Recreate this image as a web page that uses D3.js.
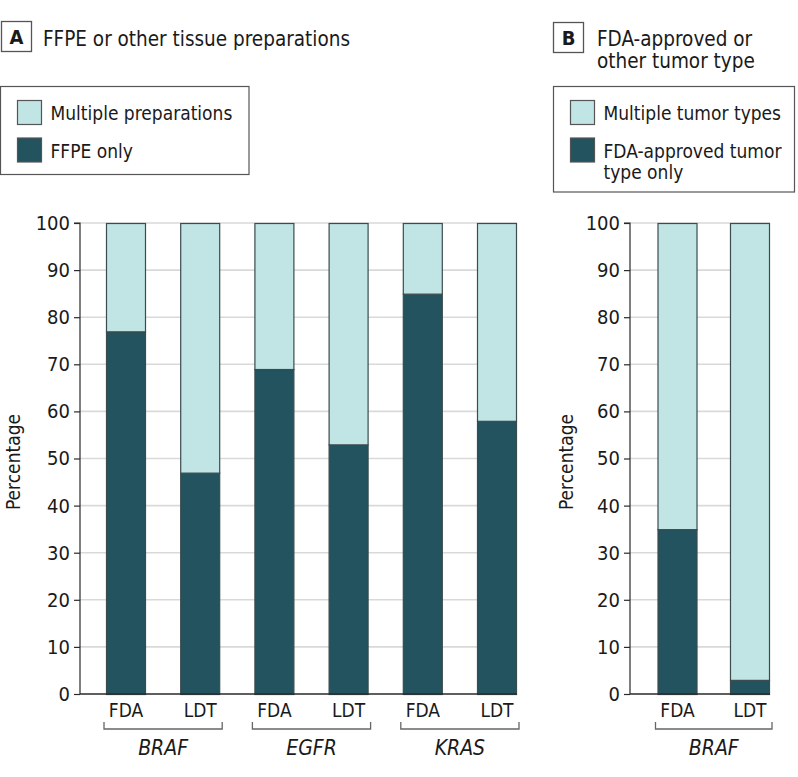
<!DOCTYPE html>
<html>
<head>
<meta charset="utf-8">
<script src="https://cdn.jsdelivr.net/npm/d3@7"></script>
<style>
  html, body { margin: 0; padding: 0; background: #fff; }
  svg { display: block; }
  text { font-family: "DejaVu Sans Condensed", "DejaVu Sans", sans-serif; font-stretch: condensed; fill: #1a1a1a; }
</style>
</head>
<body>
<svg id="chart" width="798" height="777"></svg>
<script>
// ---------------- DATA ----------------
const yTicks = [0, 10, 20, 30, 40, 50, 60, 70, 80, 90, 100];

// Panel A
const genesA = ["BRAF", "EGFR", "KRAS"];
const testTypes = ["FDA", "LDT"];
const barGeneA = ["BRAF", "BRAF", "EGFR", "EGFR", "KRAS", "KRAS"];
const barTestA = ["FDA", "LDT", "FDA", "LDT", "FDA", "LDT"];
const ffpeOnly = [77, 47, 69, 53, 85, 58];
const multiplePreparations = [23, 53, 31, 47, 15, 42];
const legendA = ["Multiple preparations", "FFPE only"];

// Panel B
const genesB = ["BRAF"];
const barGeneB = ["BRAF", "BRAF"];
const barTestB = ["FDA", "LDT"];
const fdaApprovedOnly = [35, 3];
const multipleTumorTypes = [65, 97];
const legendB = ["Multiple tumor types", ["FDA-approved tumor", "type only"]];

// ---------------- STYLE ----------------
const colDark = "#22535f";
const colLight = "#c1e5e5";
const barStroke = "#3b4b4e";
const gridCol = "#d9d9d9";
const FONT = '"DejaVu Sans Condensed", "DejaVu Sans", sans-serif';

const svg = d3.select("#chart");

function panel(opts) {
  const g = svg.append("g");
  const { axisX, barLeft, barRight, keys, lower, upper, genes, barGene, barTest, pad } = opts;
  const y = d3.scaleLinear().domain([0, 100]).range([694, 223]);
  const x = d3.scaleBand().domain(keys).range([barLeft, barRight]).paddingInner(pad).paddingOuter(0);

  // gridlines
  g.append("g").selectAll("line").data(yTicks.filter(t => t > 0)).join("line")
    .attr("x1", axisX).attr("x2", barRight)
    .attr("y1", d => y(d)).attr("y2", d => y(d))
    .attr("stroke", gridCol).attr("stroke-width", 1.6);

  // stacked bars
  const rows = keys.map((k, i) => ({ key: k, lower: lower[i], upper: upper[i] }));
  const stack = d3.stack().keys(["lower", "upper"])(rows);
  const colors = { lower: colDark, upper: colLight };
  g.append("g").selectAll("g").data(stack).join("g")
    .attr("fill", d => colors[d.key])
    .selectAll("rect").data(d => d).join("rect")
    .attr("x", d => x(d.data.key) + 0.5)
    .attr("width", x.bandwidth() - 1)
    .attr("y", d => y(d[1]) + 0.5)
    .attr("height", d => y(d[0]) - y(d[1]))
    .attr("stroke", barStroke).attr("stroke-width", 1.2);

  // y axis
  const yAxis = d3.axisLeft(y).tickValues(yTicks).tickSize(6).tickPadding(4).tickFormat(d3.format("d"));
  const ya = g.append("g").attr("transform", `translate(${axisX},0)`).call(yAxis);
  ya.select(".domain").attr("stroke", "#2a2a2a").attr("stroke-width", 1.2).attr("d", `M-6,${y(100)}H0V${y(0)}`);
  ya.selectAll(".tick line").attr("stroke", "#2a2a2a").attr("stroke-width", 1.2);
  ya.selectAll(".tick text").attr("font-size", 20).attr("fill", "#1a1a1a").style("font-family", FONT);

  // baseline
  g.append("line").attr("x1", axisX).attr("x2", barRight).attr("y1", y(0)).attr("y2", y(0))
    .attr("stroke", "#2a2a2a").attr("stroke-width", 1.4);

  // x labels
  const xAxis = d3.axisBottom(x).tickSize(0).tickPadding(10).tickFormat((d, i) => barTest[i]);
  const xa = g.append("g").attr("transform", `translate(0,${y(0)})`).call(xAxis);
  xa.select(".domain").remove();
  xa.selectAll(".tick text").attr("font-size", 19).attr("fill", "#1a1a1a").style("font-family", FONT);

  // brackets & gene labels
  genes.forEach(gene => {
    const ks = keys.filter((k, i) => barGene[i] === gene);
    const x0 = x(ks[0]) - 2, x1 = x(ks[ks.length - 1]) + x.bandwidth() + 2;
    g.append("path").attr("d", `M${x0},722V729H${x1}V722`)
      .attr("fill", "none").attr("stroke", "#666").attr("stroke-width", 1.3);
    g.append("text").attr("x", (x0 + x1) / 2).attr("y", 755).attr("text-anchor", "middle")
      .attr("font-size", 21).attr("font-style", "italic").text(gene);
  });

  // y title
  g.append("text").attr("transform", `translate(${opts.titleX},462) rotate(-90)`)
    .attr("text-anchor", "middle").attr("font-size", 19).text("Percentage");
}

panel({
  axisX: 80, barLeft: 106, barRight: 517, pad: 0.461,
  keys: barGeneA.map((g, i) => g + "-" + barTestA[i]),
  lower: ffpeOnly, upper: multiplePreparations,
  genes: genesA, barGene: barGeneA, barTest: barTestA, titleX: 20
});
panel({
  axisX: 630, barLeft: 657.5, barRight: 770, pad: 0.448,
  keys: barGeneB.map((g, i) => g + "-" + barTestB[i]),
  lower: fdaApprovedOnly, upper: multipleTumorTypes,
  genes: genesB, barGene: barGeneB, barTest: barTestB, titleX: 573
});

// panel labels and titles
function panelLabel(x, y, letter) {
  svg.append("rect").attr("x", x).attr("y", y).attr("width", 30).attr("height", 30)
    .attr("fill", "#fff").attr("stroke", "#555").attr("stroke-width", 1.3);
  svg.append("text").attr("x", x + 15).attr("y", y + 22.5).attr("text-anchor", "middle")
    .attr("font-size", 20).attr("font-weight", "bold").text(letter);
}
panelLabel(1.5, 21.5, "A");
panelLabel(553.5, 22.5, "B");
svg.append("text").attr("x", 43).attr("y", 46).attr("font-size", 20.5).text("FFPE or other tissue preparations");
svg.append("text").attr("x", 597).attr("y", 46).attr("font-size", 20.5).text("FDA-approved or");
svg.append("text").attr("x", 597).attr("y", 68).attr("font-size", 20.5).text("other tumor type");

// legends
function legend(x, y, w, h, items) {
  svg.append("rect").attr("x", x).attr("y", y).attr("width", w).attr("height", h)
    .attr("fill", "#fff").attr("stroke", "#555").attr("stroke-width", 1.2);
  const cols = [colLight, colDark];
  items.forEach((it, i) => {
    const sy = y + 14 + i * 37.5;
    svg.append("rect").attr("x", x + 17).attr("y", sy).attr("width", 24).attr("height", 24)
      .attr("fill", cols[i]).attr("stroke", "#555").attr("stroke-width", 1.2);
    const lines = Array.isArray(it) ? it : [it];
    lines.forEach((ln, j) => {
      svg.append("text").attr("x", x + 50).attr("y", sy + 19.5 + j * 21).attr("font-size", 19).text(ln);
    });
  });
}
legend(0.5, 86.5, 248.5, 88, legendA);
legend(553.5, 86.5, 241, 105.5, legendB);
</script>
</body>
</html>
